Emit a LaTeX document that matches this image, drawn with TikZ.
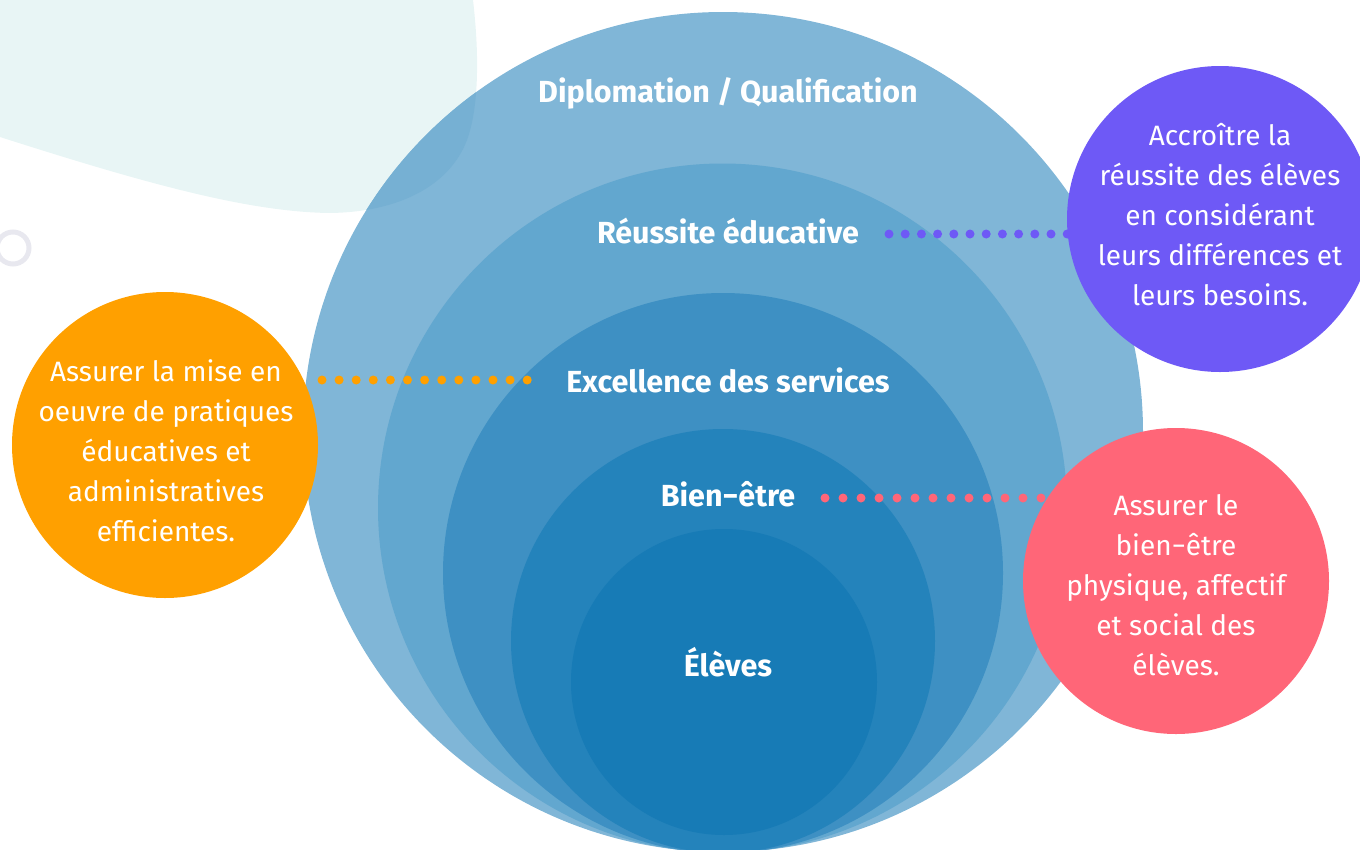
\documentclass[tikz,border=0pt]{standalone}
\usepackage{fontspec}
\setmainfont{Fira Sans}
\definecolor{blob}{HTML}{E8F5F5}
\definecolor{cA}{HTML}{80B6D7}
\definecolor{cAdark}{HTML}{76B0D3}
\definecolor{cB}{HTML}{62A7CF}
\definecolor{cC}{HTML}{3E90C3}
\definecolor{cD}{HTML}{2483BB}
\definecolor{cE}{HTML}{177BB6}
\definecolor{corange}{HTML}{FFA000}
\definecolor{cpurple}{HTML}{6E59F6}
\definecolor{cpink}{HTML}{FF6678}
\definecolor{ring}{HTML}{E8E8EF}
\tikzset{
  heading/.style={text=white, font=\bfseries\fontsize{30.5}{36}\selectfont, inner sep=0pt},
  sidecircle/.style={circle, minimum size=306pt, inner sep=0pt},
  sidetext/.style={inner sep=0pt, text=white, align=center, font=\fontsize{28}{40}\selectfont},
  dotline/.style={line width=9pt, line cap=round}
}
\begin{document}
\begin{tikzpicture}[x=1pt,y=-1pt]
\useasboundingbox (0,0) rectangle (1360,849);
\clip (0,0) rectangle (1360,849);
% background blob
\def\blobpath{(0,0) -- (473,0) .. controls (480,60) and (478,110) .. (467,140)
  .. controls (450,185) and (400,212) .. (330,213)
  .. controls (250,212) and (150,185) .. (0,137) -- cycle}
\fill[blob] \blobpath;
% small ring
\draw[ring, line width=5pt] (13,248) circle (16);
% concentric circles
\fill[cA] (723,432) circle (420);
\begin{scope}
  \clip \blobpath;
  \fill[cAdark] (723,432) circle (420);
\end{scope}
\fill[cB] (722.5,508) circle (344.5);
\fill[cC] (723,573) circle (280);
\fill[cD] (723,641) circle (212);
\fill[cE] (724,682) circle (153);
% headings
\node[heading] (dipl) at (728,93) {Diplomation / Qualification};
\node[heading] (reus) at (728,231) {Réussite éducative};
\node[heading] (exc) at (728,380) {Excellence des services};
\node[heading] (bien) at (728,494) {Bien−être};
\node[heading] (elev) at (728,662) {Élèves};
% side circles
\node[sidecircle, fill=corange] (orange) at (165,445) {};
\node[sidetext] (orangetext) at (166,451) {Assurer la mise en\\oeuvre de pratiques\\éducatives et\\administratives\\efficientes.};
\node[sidecircle, fill=cpurple] (purple) at (1220,219) {};
\node[sidetext] (purpletext) at (1220,215) {Accroître la\\réussite des élèves\\en considérant\\leurs différences et\\leurs besoins.};
\node[sidecircle, fill=cpink] (pink) at (1176,581) {};
\node[sidetext] (pinktext) at (1176,585) {Assurer le\\bien−être\\physique, affectif\\et social des\\élèves.};
% dotted connectors
\coordinate (oS) at (322,380);
\coordinate (oE) at (528,380);
\draw[dotline, corange, dash pattern=on 0pt off 17.1pt] (oS) -- (oE);
\coordinate (pS) at (889,234);
\coordinate (pE) at (1068,234);
\draw[dotline, cpurple, dash pattern=on 0pt off 16.2pt] (pS) -- (pE);
\coordinate (kS) at (825,498);
\coordinate (kE) at (1042,498);
\draw[dotline, cpink, dash pattern=on 0pt off 18pt] (kS) -- (kE);
\end{tikzpicture}
\end{document}
